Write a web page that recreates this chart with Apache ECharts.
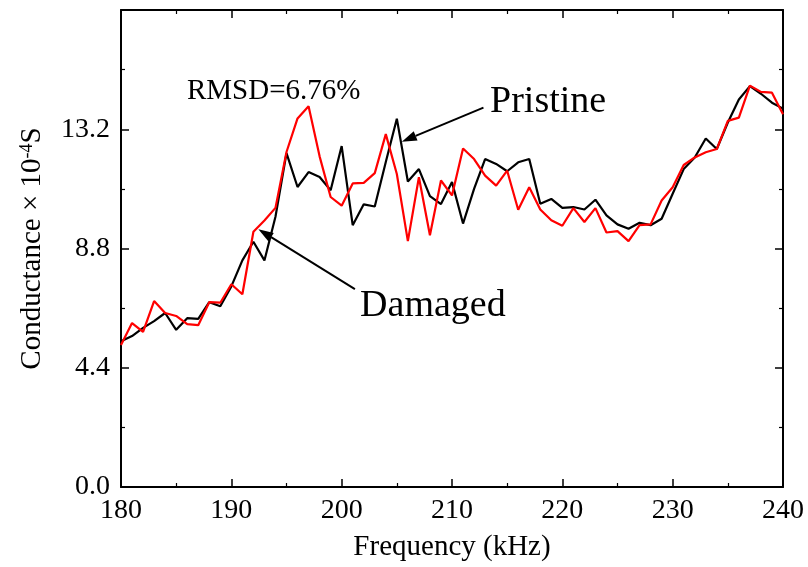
<!DOCTYPE html>
<html><head><meta charset="utf-8">
<script src="https://cdn.jsdelivr.net/npm/echarts@6/dist/echarts.min.js"></script>
<style>html,body{margin:0;padding:0;background:#fff}#c{width:808px;height:567px}</style>
</head><body><div id="c"></div>
<script>
const frequency = [180,181,182,183,184,185,186,187,188,189,190,191,192,193,194,195,196,197,198,199,200,201,202,203,204,205,206,207,208,209,210,211,212,213,214,215,216,217,218,219,220,221,222,223,224,225,226,227,228,229,230,231,232,233,234,235,236,237,238,239,240];
const pristine = [5.38,5.57,5.87,6.12,6.42,5.80,6.23,6.20,6.82,6.67,7.40,8.36,9.05,8.36,9.97,12.32,11.07,11.62,11.44,10.95,12.58,9.66,10.43,10.35,11.99,13.59,11.27,11.73,10.73,10.44,11.25,9.72,11.00,12.10,11.92,11.65,11.98,12.10,10.45,10.63,10.30,10.33,10.24,10.60,10.02,9.69,9.53,9.75,9.66,9.90,10.82,11.73,12.16,12.86,12.47,13.45,14.30,14.79,14.51,14.18,13.96];
const damaged = [5.24,6.05,5.72,6.86,6.42,6.31,6.01,5.97,6.82,6.80,7.48,7.11,9.42,9.83,10.30,12.36,13.60,14.05,12.20,10.70,10.38,11.20,11.22,11.58,13.02,11.55,9.07,11.43,9.29,11.31,10.76,12.49,12.10,11.49,11.12,11.67,10.23,11.06,10.24,9.84,9.64,10.29,9.78,10.29,9.39,9.44,9.07,9.66,9.69,10.57,11.06,11.88,12.16,12.35,12.47,13.51,13.63,14.81,14.58,14.55,13.75];
const xTicks = {min: 180, max: 240, interval: 10};
const yTicks = {min: 0, max: 17.6, interval: 4.4};
const FONT = "'Liberation Serif','Times New Roman',serif";

const chart = echarts.init(document.getElementById('c'), null, {renderer: 'canvas'});
function axisBase(extra) {
  return Object.assign({
    type: 'value',
    axisLine: {show: true, onZero: false, lineStyle: {color: '#000', width: 2}},
    axisTick: {show: true, inside: true, length: 8, lineStyle: {color: '#000', width: 1.5}},
    minorTick: {show: true, splitNumber: 2, length: 4, lineStyle: {color: '#000', width: 1.2}},
    splitLine: {show: false},
    minorSplitLine: {show: false}
  }, extra);
}
const seriesData = (vals) => frequency.map((f, i) => [f, vals[i]]);

chart.setOption({
  animation: false,
  backgroundColor: '#fff',
  grid: {left: 121, right: 25, top: 10, bottom: 77},
  xAxis: [
    axisBase({min: xTicks.min, max: xTicks.max, interval: xTicks.interval, position: 'bottom',
      axisLabel: {color: '#000', fontFamily: FONT, fontSize: 28, margin: 10},
      name: 'Frequency (kHz)', nameLocation: 'middle', nameGap: 46,
      nameTextStyle: {color: '#000', fontFamily: FONT, fontSize: 29}}),
    axisBase({min: xTicks.min, max: xTicks.max, interval: xTicks.interval, position: 'top',
      axisLabel: {show: false}})
  ],
  yAxis: [
    axisBase({min: yTicks.min, max: yTicks.max, interval: yTicks.interval, position: 'left',
      axisLabel: {color: '#000', fontFamily: FONT, fontSize: 28, margin: 11, showMaxLabel: false,
        formatter: v => v.toFixed(1)},
      name: 'Conductance × 10{sup|-4}S', nameLocation: 'middle', nameGap: 74,
      nameTextStyle: {color: '#000', fontFamily: FONT, fontSize: 29,
        rich: {sup: {fontFamily: FONT, fontSize: 18, color: '#000', verticalAlign: 'top'}}}}),
    axisBase({min: yTicks.min, max: yTicks.max, interval: yTicks.interval, position: 'right',
      axisLabel: {show: false}})
  ],
  series: [
    {name: 'Pristine', type: 'line', data: seriesData(pristine), symbol: 'none',
      lineStyle: {color: '#000', width: 2.2}, z: 2},
    {name: 'Damaged', type: 'line', data: seriesData(damaged), symbol: 'none',
      lineStyle: {color: '#ff0000', width: 2.2}, z: 3}
  ]
});

function px(f, v) { return chart.convertToPixel({gridIndex: 0}, [f, v]); }
function arrow(from, to) {
  const a = px(from[0], from[1]), b = px(to[0], to[1]);
  const dx = b[0] - a[0], dy = b[1] - a[1], L = Math.hypot(dx, dy);
  const ux = dx / L, uy = dy / L, hl = 15, hw = 5;
  const base = [b[0] - ux * hl, b[1] - uy * hl];
  return [
    {type: 'line', shape: {x1: a[0], y1: a[1], x2: base[0], y2: base[1]}, style: {stroke: '#000', lineWidth: 2}, z: 10},
    {type: 'polygon', shape: {points: [b, [base[0] - uy * hw, base[1] + ux * hw], [base[0] + uy * hw, base[1] - ux * hw]]}, style: {fill: '#000'}, z: 10}
  ];
}
function label(text, f, v, size) {
  const p = px(f, v);
  return {type: 'text', x: p[0], y: p[1], style: {text: text, fill: '#000', font: size + 'px ' + FONT, textAlign: 'left', textVerticalAlign: 'middle'}, z: 10};
}
chart.setOption({
  graphic: [].concat(
    arrow([212.85, 14.0], [205.45, 12.74]),
    arrow([201.2, 7.3], [192.45, 9.51]),
    [label('Pristine', 213.45, 14.2, 38), label('Damaged', 201.67, 6.68, 38), label('RMSD=6.76%', 185.98, 14.6, 29)]
  )
});
</script></body></html>
